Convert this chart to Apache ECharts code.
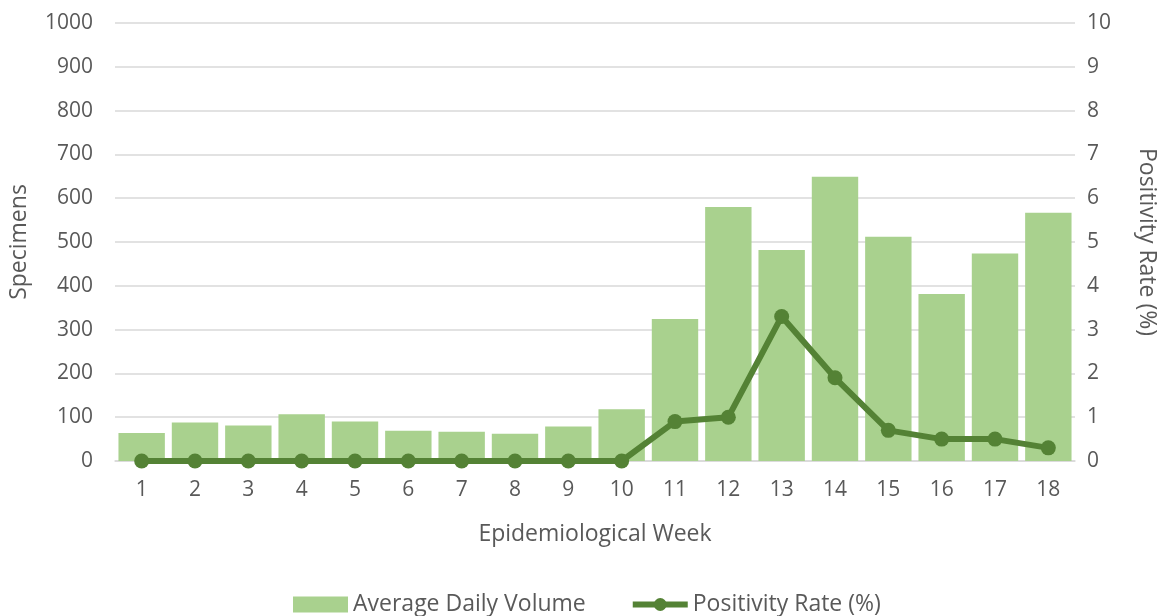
<!DOCTYPE html>
<html><head><meta charset="utf-8">
<script src="https://cdn.jsdelivr.net/npm/echarts@6/dist/echarts.min.js"></script>
<style>html,body{margin:0;padding:0;background:#fff}#c{width:1159px;height:616px}</style>
</head><body><div id="c"></div>
<script>
const weeks = ['1','2','3','4','5','6','7','8','9','10','11','12','13','14','15','16','17','18'];
const avgDailyVolume = [64, 88, 81, 107, 90, 69, 67, 62, 79, 118, 324, 580, 482, 649, 512, 381, 474, 567];
const positivityRate = [0, 0, 0, 0, 0, 0, 0, 0, 0, 0, 0.9, 1.0, 3.3, 1.9, 0.7, 0.5, 0.5, 0.3];

const FONT = 'Open Sans';
const FS = 21;
const FN = 23;
const TXT = '#595959';
const chart = echarts.init(document.getElementById('c'));
chart.setOption({
  animation: false,
  textStyle: {fontFamily: FONT},
  grid: {left: 115, right: 84, top: 23, bottom: 155, containLabel: false, outerBoundsMode: 'none'},
  legend: {
    left: 288, top: 588, itemGap: 44, itemWidth: 55, itemHeight: 16,
    textStyle: {fontFamily: FONT, fontSize: FN, color: TXT},
    data: [
      {name: 'Average Daily Volume', icon: 'rect'},
      {name: 'Positivity Rate (%)', lineStyle: {width: 6, color: '#548235'}}
    ]
  },
  xAxis: {
    type: 'category', data: weeks,
    name: 'Epidemiological Week', nameLocation: 'middle', nameGap: 62,
    nameTextStyle: {fontFamily: FONT, fontSize: FN, color: TXT},
    axisLine: {lineStyle: {color: '#D9D9D9', width: 1.5}},
    axisTick: {show: false},
    axisLabel: {fontFamily: FONT, fontSize: FS, color: TXT, margin: 19},
  },
  yAxis: [
    {
      type: 'value', min: 0, max: 1000, interval: 100,
      name: 'Specimens', nameLocation: 'middle', nameGap: 84,
      nameTextStyle: {fontFamily: FONT, fontSize: FN, color: TXT},
      axisLine: {show: false}, axisTick: {show: false},
      axisLabel: {fontFamily: FONT, fontSize: FS, color: TXT, margin: 22, formatter: v => String(v)},
      splitLine: {lineStyle: {color: '#D9D9D9', width: 1.5}}
    },
    {
      type: 'value', min: 0, max: 10, interval: 1, position: 'right',
      name: 'Positivity Rate (%)', nameLocation: 'middle', nameGap: 60, nameRotate: -90,
      nameTextStyle: {fontFamily: FONT, fontSize: FN, color: TXT},
      axisLine: {show: false}, axisTick: {show: false},
      axisLabel: {fontFamily: FONT, fontSize: FS, color: TXT, margin: 12},
      splitLine: {show: false}
    }
  ],
  series: [
    {
      name: 'Average Daily Volume', type: 'bar', data: avgDailyVolume,
      barCategoryGap: '13%',
      itemStyle: {color: '#A9D18E'}
    },
    {
      name: 'Positivity Rate (%)', type: 'line', yAxisIndex: 1, data: positivityRate,
      symbol: 'circle', symbolSize: 15,
      lineStyle: {color: '#548235', width: 6},
      itemStyle: {color: '#548235'}
    }
  ]
});
</script></body></html>
